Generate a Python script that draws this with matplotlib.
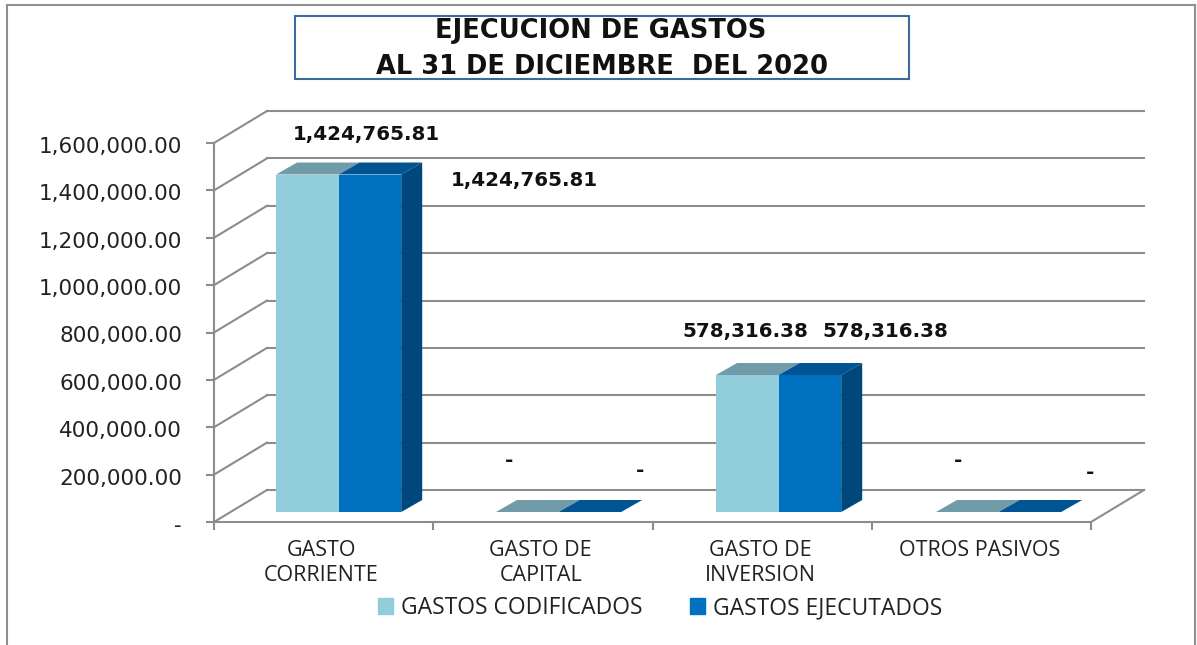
import matplotlib
matplotlib.use('Agg')
import matplotlib.pyplot as plt
from matplotlib.patches import Polygon, Rectangle
from matplotlib.lines import Line2D
from matplotlib.transforms import ScaledTranslation

categorias = ['GASTO\nCORRIENTE', 'GASTO DE\nCAPITAL', 'GASTO DE\nINVERSION', 'OTROS PASIVOS']
codificados = [1424765.81, 0, 578316.38, 0]
ejecutados = [1424765.81, 0, 578316.38, 0]
y_ticks = [0, 200000, 400000, 600000, 800000, 1000000, 1200000, 1400000, 1600000]

# forskyvning i piksler for dataetikettene (dx, dy fra midten av toppen av stolpen)
off_cod = [(59, 40), (-18, 52), (-2, 44), (-9, 51)]
off_eje = [(154, -6), (50, 41), (75, 44), (60, 39)]

W, H = 1197, 645
plt.rcParams['font.family'] = ['Open Sans', 'DejaVu Sans']

fig = plt.figure(figsize=(W/100, H/100), dpi=100)
ax = fig.add_axes([214/W, (H-522)/H, 877/W, 379/H])
ax.set_xlim(0, 4)
ax.set_ylim(0, 1600000)

# omregning fra piksler til dataenheter
px_x = 4/877
px_y = 1600000/379

gris = '#8C8C8C'
# bakvegg og gulv
dx = 53*px_x
dy = 32*px_y
for t in y_ticks:
    ax.plot([0, dx], [t, t+dy], color=gris, lw=1.5, clip_on=False, zorder=1)
    ax.plot([dx, 4+dx], [t+dy, t+dy], color=gris, lw=1.5, clip_on=False, zorder=1)
ax.plot([4, 4+dx], [0, dy], color=gris, lw=1.5, clip_on=False, zorder=1)

# stolpene
base = 10*px_y
bw = 62.6*px_x
start = 62*px_x
steg = 220*px_x
ddx = 21*px_x
ddy = 12*px_y


def stolpe(x, v, front, topp, side):
    ax.bar(x, v, bw, bottom=base, align='edge', color=front, zorder=3, clip_on=False)
    ax.add_patch(Polygon([(x, base+v), (x+bw, base+v), (x+bw+ddx, base+v+ddy), (x+ddx, base+v+ddy)],
                         color=topp, lw=0, zorder=3, clip_on=False))
    if side:
        ax.add_patch(Polygon([(x+bw, base), (x+bw+ddx, base+ddy), (x+bw+ddx, base+v+ddy), (x+bw, base+v)],
                             color=side, lw=0, zorder=3, clip_on=False))


def etikett(x, v, off):
    tekst = f'{v:,.2f}' if v > 0 else '-'
    ax.annotate(tekst, (x+bw/2, base+v), xytext=(off[0]*0.72, off[1]*0.72), textcoords='offset points',
                ha='center', va='center', fontsize=14.3, fontweight='bold', color='#111111',
                family=['DejaVu Sans'], zorder=5, annotation_clip=False)


for i in range(4):
    x1 = i*steg + start
    x2 = x1 + bw
    stolpe(x1, codificados[i], '#92CDDC', '#719BA8', None)
    stolpe(x2, ejecutados[i], '#0070C0', '#005493', '#00477C')
    etikett(x1, codificados[i], off_cod[i])
    etikett(x2, ejecutados[i], off_eje[i])

# akser
for s in ['top', 'right']:
    ax.spines[s].set_visible(False)
for s in ['left', 'bottom']:
    ax.spines[s].set_color(gris)
    ax.spines[s].set_linewidth(1.5)
    ax.spines[s].set_zorder(2)
ax.set_yticks(y_ticks)
ax.set_yticklabels([f'{t:,.2f}' if t > 0 else '-' for t in y_ticks], family=['DejaVu Sans'], fontsize=15.5, color='#222222')
ax.tick_params(axis='y', length=6, width=1.5, color=gris, pad=17)
flytt = ScaledTranslation(0, -2/100, fig.dpi_scale_trans)
for lab in ax.get_yticklabels():
    lab.set_transform(lab.get_transform() + flytt)
ax.set_xticks(range(5))
ax.set_xticklabels([])
ax.tick_params(axis='x', length=6, width=1.5, color=gris)
ax.set_xticks([i+0.49 for i in range(4)], minor=True)
ax.set_xticklabels(categorias, minor=True, fontsize=15.5, color='#222222', linespacing=1.25)
ax.tick_params(axis='x', which='minor', length=0, pad=13)

# forklaring
handles = [Rectangle((0, 0), 1, 1, color='#92CDDC'), Rectangle((0, 0), 1, 1, color='#0070C0')]
fig.legend(handles, ['GASTOS CODIFICADOS', 'GASTOS EJECUTADOS'], ncols=2, frameon=False,
           loc='center', bbox_to_anchor=(660/W, 1-608/H), fontsize=16.5, handlelength=0.65, handleheight=0.65,
           handletextpad=0.35, columnspacing=2.1, labelcolor='#222222')

# ramme
for xy in [[(7, 7), (H, 5)], [(7, 1195), (5, 5)], [(1195, 1195), (5, H)]]:
    fig.add_artist(Line2D([p/W for p in xy[0]], [1-p/H for p in xy[1]], color='#909090', lw=1.5))

# tittel
fig.add_artist(Rectangle((295/W, 1-79/H), 614/W, 63/H, fc='white', ec='#3A6A9E', lw=1.5, transform=fig.transFigure))
fig.text(601/W, 1-31/H, 'EJECUCION DE GASTOS', ha='center', va='center', fontsize=18.5, fontweight='bold',
         color='#111111', family=['DejaVu Sans'])
fig.text(602/W, 1-67/H, 'AL 31 DE DICIEMBRE  DEL 2020', ha='center', va='center', fontsize=18.5, fontweight='bold',
         color='#111111', family=['DejaVu Sans'])

fig.savefig('out.png', dpi=100)
